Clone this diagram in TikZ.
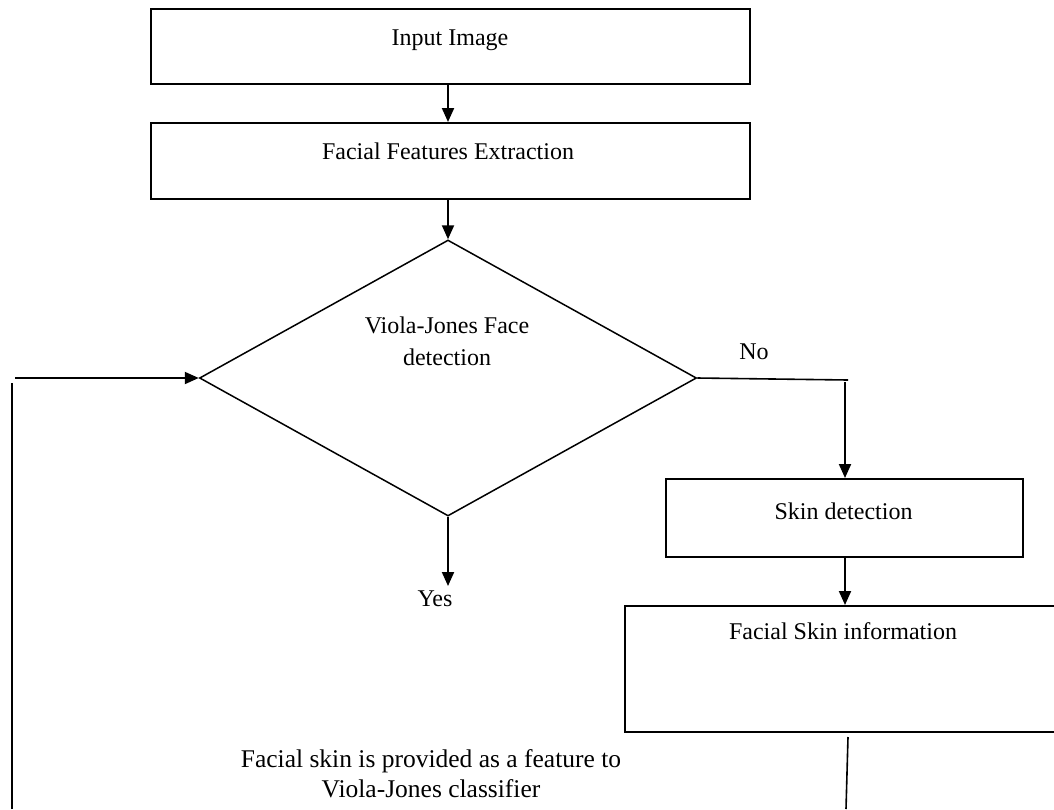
\documentclass[tikz,border=0pt]{standalone}
\usepackage{fontspec}
\setmainfont{Liberation Serif}
\usetikzlibrary{shapes.geometric,arrows.meta}
\begin{document}
\begin{tikzpicture}[x=1pt,y=-1pt,
  box/.style={draw,line width=1.6pt,inner sep=0pt,anchor=north west},
  lbl/.style={font=\fontsize{24}{32}\selectfont,inner sep=0pt,anchor=base},
  big/.style={font=\fontsize{25.5}{30}\selectfont,inner sep=0pt,align=center,anchor=base},
  arr/.style={line width=2pt,-{Triangle[length=14pt,width=12pt]}},
  ln/.style={line width=1.6pt}]
\useasboundingbox (0,0) rectangle (1054,809);
% boxes
\node[box,minimum width=599pt,minimum height=75pt] (in) at (150,8) {};
\node[lbl] (tin) at (450,45) {Input Image};
\node[box,minimum width=599pt,minimum height=76pt] (fe) at (150,122) {};
\node[lbl] (tfe) at (448,159) {Facial Features Extraction};
\node[draw,line width=1.5pt,diamond,minimum width=497pt,minimum height=276pt,inner sep=0pt] (dia) at (448,378) {};
\node[lbl] (tdia1) at (447,333) {Viola-Jones Face};
\node[lbl] (tdia2) at (447,365) {detection};
\node[box,minimum width=357pt,minimum height=78pt] (sd) at (665,478) {};
\node[lbl] (tsd) at (843.5,519) {Skin detection};
\node[box,minimum width=440pt,minimum height=126pt] (fsi) at (624,605) {};
\node[lbl] (tfsi) at (843,639) {Facial Skin information};
% labels
\node[lbl] (no) at (754,359) {No};
\node[lbl] (yes) at (435,606) {Yes};
\node[big] (fb) at (431,797) {Facial skin is provided as a feature to\\Viola-Jones classifier};
% coordinates
\coordinate (noend) at (848,380);
\coordinate (nodown) at (845,382);
\coordinate (yesend) at (448,586);
\coordinate (lb) at (12,809);
\coordinate (lt) at (12,383);
\coordinate (lh) at (15,378);
\coordinate (rb1) at (848,737);
\coordinate (rb2) at (846,809);
% connectors
\draw[arr] (in.south -| dia.north) -- (fe.north -| dia.north);
\draw[arr] (fe.south -| dia.north) -- (dia.north);
\draw[ln] (dia.east) -- (noend);
\draw[arr] (nodown) -- (sd.north -| nodown);
\draw[arr] (sd.south -| nodown) -- (fsi.north -| nodown);
\draw[arr] (dia.south) -- (yesend);
\draw[ln] (lb) -- (lt);
\draw[arr] (lh) -- (dia.west);
\draw[ln] (rb1) -- (rb2);
\end{tikzpicture}
\end{document}
